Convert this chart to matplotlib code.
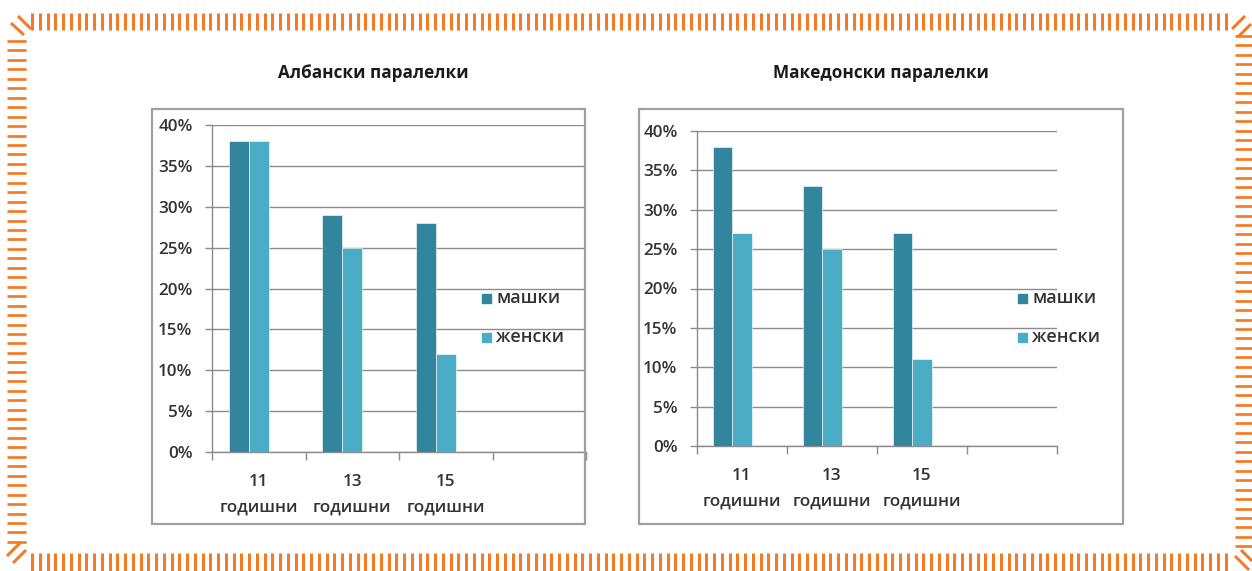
import numpy as np
import matplotlib
matplotlib.use("Agg")
import matplotlib.pyplot as plt
from matplotlib.patches import Rectangle

plt.rcParams['font.family'] = ['Open Sans', 'DejaVu Sans']

# ---- data -------------------------------------------------------------
categories = ['11\nгодишни', '13\nгодишни', '15\nгодишни']
series_names = ['машки', 'женски']
albanian_boys = [38, 29, 28]
albanian_girls = [38, 25, 12]
macedonian_boys = [38, 33, 27]
macedonian_girls = [27, 25, 11]
y_ticks = [0, 5, 10, 15, 20, 25, 30, 35, 40]
y_tick_labels = ['0%', '5%', '10%', '15%', '20%', '25%', '30%', '35%', '40%']
titles = ['Албански паралелки', 'Македонски паралелки']

# ---- style ------------------------------------------------------------
W, H = 1252, 571
DPI = 100
COL_BOYS = '#31859C'
COL_GIRLS = '#4BACC6'
GRID = '#8C8C8C'
TEXT = '#333333'
ORANGE = '#F47A26'
LABEL_WEIGHT = 600

fig = plt.figure(figsize=(W / DPI, H / DPI), dpi=DPI)
fig.patch.set_facecolor('white')


def px_rect(x0, y0, x1, y1):
    return [x0 / W, 1 - y1 / H, (x1 - x0) / W, (y1 - y0) / H]


# overlay in pixel coordinates for frames and decoration
deco = fig.add_axes([0, 0, 1, 1])
deco.set_xlim(0, W)
deco.set_ylim(H, 0)
deco.axis('off')

# dashed orange frame
lw_v = 3 * 72 / DPI
for x in np.arange(32, 1230, 7.75):
    deco.plot([x, x], [13, 30], color=ORANGE, lw=lw_v, solid_capstyle='butt')
    deco.plot([x, x], [553, 571], color=ORANGE, lw=lw_v, solid_capstyle='butt')
for y in np.arange(41, 550, 9.45):
    deco.plot([7, 26], [y, y], color=ORANGE, lw=lw_v * 0.9, solid_capstyle='butt')
for y in np.arange(36, 550, 9.45):
    deco.plot([1235, 1252], [y, y], color=ORANGE, lw=lw_v * 0.9, solid_capstyle='butt')
# corner strokes
for (x0, y0, x1, y1) in [(18, 16, 31, 29), (11, 23, 24, 35),
                         (1232, 29, 1245, 16), (1238, 37, 1251, 24),
                         (13, 563, 26, 550), (7, 556, 20, 543),
                         (1235, 556, 1249, 570), (1241, 550, 1252, 561)]:
    deco.plot([x0, x1], [y0, y1], color=ORANGE, lw=lw_v, solid_capstyle='butt')

panels = [
    dict(box=(152, 109, 585, 524), plot=(212, 125, 586, 452),
         title_xy=(373, 73), legend_xy=(478, 298),
         boys=albanian_boys, girls=albanian_girls, title=titles[0]),
    dict(box=(639, 109, 1123, 524), plot=(697, 131, 1057, 446),
         title_xy=(881, 73), legend_xy=(1014, 298),
         boys=macedonian_boys, girls=macedonian_girls, title=titles[1]),
]

n_slots = len(categories) + 1      # one trailing empty category
bar_w = 0.215                      # three-bar group layout, third slot unused

for p in panels:
    bx0, by0, bx1, by1 = p['box']
    deco.add_patch(Rectangle((bx0, by0), bx1 - bx0, by1 - by0, fill=False,
                             edgecolor='#A0A0A0', lw=1.6))
    deco.text(p['title_xy'][0], p['title_xy'][1], p['title'], ha='center',
              va='center', fontsize=12.3, fontweight='bold', color='#1A1A1A')

    ax = fig.add_axes(px_rect(*p['plot']))
    ax.patch.set_alpha(0)
    x = np.arange(len(categories))
    ax.bar(x - bar_w, np.array(p['boys']), width=bar_w, color=COL_BOYS,
           edgecolor='white', linewidth=0.4, zorder=3)
    ax.bar(x, np.array(p['girls']), width=bar_w, color=COL_GIRLS,
           edgecolor='white', linewidth=0.4, zorder=3)

    ax.set_xlim(-0.5, n_slots - 0.5)
    ax.set_ylim(0, 40)
    ax.set_yticks(y_ticks)
    ax.set_yticklabels(y_tick_labels, fontweight=LABEL_WEIGHT)
    ax.yaxis.grid(True, color=GRID, lw=1.0, zorder=0)
    ax.set_axisbelow(True)

    ax.set_xticks(np.arange(n_slots + 1) - 0.5)
    ax.set_xticklabels([])
    ax.set_xticks(x, minor=True)
    ax.set_xticklabels(categories, minor=True, linespacing=1.8,
                       fontweight=LABEL_WEIGHT)
    ax.tick_params(axis='x', which='major', length=5.5, color=GRID, width=1.0)
    ax.tick_params(axis='x', which='minor', length=0, pad=16,
                   labelsize=12.3, labelcolor=TEXT)
    ax.tick_params(axis='y', length=5, color=GRID, width=1.0, pad=9.0,
                   labelsize=12.3, labelcolor=TEXT)
    for s in ('top', 'right'):
        ax.spines[s].set_visible(False)
    for s in ('left', 'bottom'):
        ax.spines[s].set_color(GRID)
        ax.spines[s].set_linewidth(1.0)

    # legend entries
    lx, ly = p['legend_xy']
    for i, (name, col) in enumerate(zip(series_names, [COL_BOYS, COL_GIRLS])):
        yy = ly + i * 39
        deco.add_patch(Rectangle((lx + 4, yy - 4.5), 9, 9, color=col, zorder=5))
        deco.text(lx + 18, yy, name, ha='left', va='center', fontsize=13,
                  fontweight=LABEL_WEIGHT, color=TEXT, zorder=5)

# legend text drawn on the overlay must sit above the plot axes
deco.set_zorder(3)
deco.patch.set_alpha(0)

fig.savefig('out.png', dpi=DPI, facecolor='white')
